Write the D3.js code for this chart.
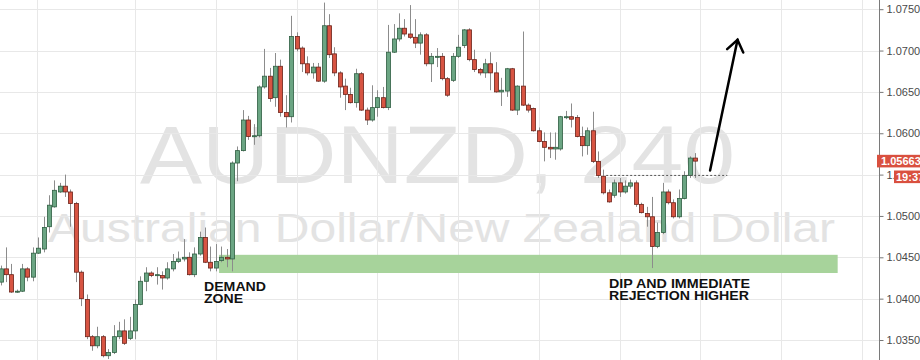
<!DOCTYPE html>
<html>
<head>
<meta charset="utf-8">
<script src="https://cdn.jsdelivr.net/npm/d3@7"></script>
<style>
  html, body { margin: 0; padding: 0; background: #fff; }
  svg { display: block; font-family: "Liberation Sans", Arial, sans-serif; }
</style>
</head>
<body>
<div id="chart"></div>
<script>
// AUDNZD 4h candles (index 0 = leftmost candle)
const opens = [
  1.0420, 1.0436, 1.0429, 1.0408, 1.0409, 1.0436, 1.0426, 1.0455, 1.0460, 1.0487,
  1.0511, 1.0529, 1.0536, 1.0529, 1.0515, 1.0432, 1.0399, 1.0354, 1.0343, 1.0354,
  1.0331, 1.0335, 1.0354, 1.0361, 1.0352, 1.0361, 1.0393, 1.0421, 1.0431, 1.0428,
  1.0428, 1.0425, 1.0436, 1.0445, 1.0448, 1.0450, 1.0429, 1.0454, 1.0474, 1.0444,
  1.0437, 1.0446, 1.0450, 1.0448, 1.0564, 1.0579, 1.0616, 1.0596, 1.0597, 1.0656,
  1.0669, 1.0643, 1.0681, 1.0625, 1.0620, 1.0717, 1.0703, 1.0684, 1.0673, 1.0680,
  1.0663, 1.0730, 1.0696, 1.0673, 1.0657, 1.0647, 1.0637, 1.0672, 1.0628, 1.0616,
  1.0631, 1.0643, 1.0631, 1.0698, 1.0714, 1.0727, 1.0720, 1.0716, 1.0709, 1.0719,
  1.0684, 1.0692, 1.0693, 1.0666, 1.0664, 1.0693, 1.0706, 1.0725, 1.0689, 1.0677,
  1.0673, 1.0684, 1.0673, 1.0650, 1.0651, 1.0678, 1.0628, 1.0657, 1.0634, 1.0630,
  1.0603, 1.0590, 1.0583, 1.0581, 1.0581, 1.0619, 1.0620, 1.0619, 1.0596, 1.0585,
  1.0603, 1.0566, 1.0548, 1.0528, 1.0525, 1.0540, 1.0529, 1.0536, 1.0540, 1.0514,
  1.0503, 1.0499, 1.0463, 1.0480, 1.0529, 1.0516, 1.0499, 1.0521, 1.0549, 1.0570
];
const highs = [
  1.0440, 1.0462, 1.0442, 1.0411, 1.0442, 1.0438, 1.0462, 1.0474, 1.0499, 1.0525,
  1.0543, 1.0540, 1.0550, 1.0532, 1.0517, 1.0434, 1.0405, 1.0356, 1.0366, 1.0356,
  1.0339, 1.0368, 1.0372, 1.0375, 1.0378, 1.0399, 1.0427, 1.0438, 1.0433, 1.0438,
  1.0433, 1.0444, 1.0454, 1.0457, 1.0472, 1.0456, 1.0462, 1.0481, 1.0486, 1.0463,
  1.0466, 1.0463, 1.0460, 1.0566, 1.0584, 1.0628, 1.0621, 1.0611, 1.0658, 1.0702,
  1.0679, 1.0697, 1.0689, 1.0646, 1.0742, 1.0722, 1.0705, 1.0693, 1.0685, 1.0685,
  1.0758, 1.0744, 1.0704, 1.0675, 1.0666, 1.0655, 1.0678, 1.0674, 1.0631, 1.0658,
  1.0652, 1.0656, 1.0731, 1.0732, 1.0745, 1.0738, 1.0755, 1.0738, 1.0722, 1.0721,
  1.0697, 1.0703, 1.0697, 1.0668, 1.0697, 1.0719, 1.0726, 1.0727, 1.0701, 1.0679,
  1.0690, 1.0698, 1.0686, 1.0667, 1.0679, 1.0679, 1.0658, 1.0723, 1.0636, 1.0631,
  1.0607, 1.0601, 1.0601, 1.0601, 1.0621, 1.0627, 1.0636, 1.0622, 1.0608, 1.0607,
  1.0626, 1.0578, 1.0556, 1.0532, 1.0544, 1.0546, 1.0543, 1.0544, 1.0543, 1.0516,
  1.0511, 1.0523, 1.0492, 1.0540, 1.0532, 1.0520, 1.0532, 1.0554, 1.0572, 1.0576
];
const lows = [
  1.0416, 1.0420, 1.0407, 1.0407, 1.0408, 1.0421, 1.0421, 1.0454, 1.0456, 1.0480,
  1.0510, 1.0528, 1.0523, 1.0487, 1.0420, 1.0391, 1.0351, 1.0337, 1.0340, 1.0329,
  1.0327, 1.0333, 1.0351, 1.0344, 1.0350, 1.0351, 1.0392, 1.0409, 1.0426, 1.0417,
  1.0411, 1.0423, 1.0433, 1.0443, 1.0445, 1.0428, 1.0426, 1.0452, 1.0443, 1.0433,
  1.0433, 1.0444, 1.0438, 1.0433, 1.0542, 1.0578, 1.0592, 1.0586, 1.0595, 1.0654,
  1.0638, 1.0632, 1.0620, 1.0607, 1.0613, 1.0699, 1.0674, 1.0670, 1.0666, 1.0662,
  1.0661, 1.0691, 1.0669, 1.0643, 1.0628, 1.0636, 1.0631, 1.0627, 1.0610, 1.0614,
  1.0620, 1.0630, 1.0628, 1.0697, 1.0711, 1.0717, 1.0714, 1.0703, 1.0695, 1.0681,
  1.0662, 1.0680, 1.0664, 1.0644, 1.0662, 1.0691, 1.0703, 1.0687, 1.0674, 1.0670,
  1.0667, 1.0652, 1.0649, 1.0633, 1.0644, 1.0627, 1.0622, 1.0633, 1.0625, 1.0602,
  1.0589, 1.0566, 1.0570, 1.0568, 1.0579, 1.0617, 1.0607, 1.0595, 1.0572, 1.0574,
  1.0564, 1.0546, 1.0526, 1.0516, 1.0522, 1.0523, 1.0527, 1.0533, 1.0511, 1.0503,
  1.0487, 1.0437, 1.0461, 1.0478, 1.0514, 1.0497, 1.0497, 1.0520, 1.0546, 1.0546
];
const closes = [
  1.0436, 1.0429, 1.0408, 1.0409, 1.0436, 1.0426, 1.0455, 1.0461, 1.0486, 1.0513,
  1.0531, 1.0536, 1.0529, 1.0515, 1.0432, 1.0400, 1.0354, 1.0343, 1.0354, 1.0331,
  1.0335, 1.0354, 1.0361, 1.0346, 1.0361, 1.0393, 1.0421, 1.0431, 1.0428, 1.0429,
  1.0425, 1.0436, 1.0445, 1.0448, 1.0450, 1.0429, 1.0454, 1.0474, 1.0444, 1.0437,
  1.0445, 1.0450, 1.0448, 1.0564, 1.0579, 1.0616, 1.0596, 1.0597, 1.0656, 1.0669,
  1.0642, 1.0681, 1.0625, 1.0620, 1.0717, 1.0702, 1.0684, 1.0673, 1.0680, 1.0663,
  1.0730, 1.0695, 1.0673, 1.0656, 1.0647, 1.0637, 1.0672, 1.0628, 1.0616, 1.0631,
  1.0643, 1.0631, 1.0698, 1.0714, 1.0727, 1.0720, 1.0716, 1.0709, 1.0719, 1.0684,
  1.0693, 1.0693, 1.0666, 1.0646, 1.0693, 1.0704, 1.0725, 1.0689, 1.0677, 1.0673,
  1.0684, 1.0673, 1.0650, 1.0652, 1.0678, 1.0628, 1.0657, 1.0634, 1.0628, 1.0603,
  1.0590, 1.0583, 1.0581, 1.0583, 1.0620, 1.0620, 1.0617, 1.0596, 1.0585, 1.0603,
  1.0566, 1.0549, 1.0528, 1.0517, 1.0540, 1.0529, 1.0536, 1.0540, 1.0514, 1.0504,
  1.0499, 1.0463, 1.0480, 1.0529, 1.0516, 1.0499, 1.0521, 1.0549, 1.0570, 1.05663
];

const priceTicks = [1.035, 1.04, 1.045, 1.05, 1.055, 1.06, 1.065, 1.07, 1.075];
const timeGrid = [6.8, 25, 40, 55, 70, 85, 100, 115, 130, 145, 160]; // candle index of day separators

// demand zone (price band, candle index range)
const zoneLow = 1.0431, zoneHigh = 1.0453;
const zoneStart = 40.6, zoneEnd = 155.5;

// breakout level (dashed) and projection arrow
const breakLevel = 1.0549, breakFrom = 112.5, breakTo = 135;
const arrowFrom = [131.8, 1.0555], arrowTo = [136.9, 1.0713];

const lastPrice = "1.05663", countdown = "19:37";
const symbolText = "AUDNZD, 240";
const descText = "Australian Dollar/New Zealand Dollar";

const width = 920, height = 360;
const axisX = 879;

const candles = opens.map((o, i) => ({ i, o, h: highs[i], l: lows[i], c: closes[i] }));

const x = d3.scaleLinear().domain([0, 129]).range([0.5, 695]);
const y = d3.scaleLinear().domain([1.035, 1.075]).range([340, 9.2]);

const svg = d3.select("#chart").append("svg")
  .attr("width", width)
  .attr("height", height);

svg.append("rect").attr("width", width).attr("height", height).attr("fill", "#fff");

// watermark (image is stretched sideways, so force text widths)
svg.append("text")
  .attr("x", 140).attr("y", 183)
  .attr("font-size", 81)
  .attr("fill", "#e3e3e3")
  .attr("textLength", 595)
  .attr("lengthAdjust", "spacingAndGlyphs")
  .text(symbolText);

svg.append("text")
  .attr("x", 48).attr("y", 242)
  .attr("font-size", 40)
  .attr("fill", "#e3e3e3")
  .attr("textLength", 787)
  .attr("lengthAdjust", "spacingAndGlyphs")
  .text(descText);

// grid
const grid = svg.append("g").attr("stroke", "#e8e8e8").attr("stroke-width", 1);
grid.selectAll(".h").data(priceTicks).join("line")
  .attr("x1", 0).attr("x2", axisX)
  .attr("y1", d => Math.round(y(d)) + 0.5).attr("y2", d => Math.round(y(d)) + 0.5);
grid.selectAll(".v").data(timeGrid).join("line")
  .attr("x1", d => Math.round(x(d)) + 0.5).attr("x2", d => Math.round(x(d)) + 0.5)
  .attr("y1", 0).attr("y2", height);

// demand zone
svg.append("rect")
  .attr("x", x(zoneStart))
  .attr("y", y(zoneHigh))
  .attr("width", x(zoneEnd) - x(zoneStart))
  .attr("height", y(zoneLow) - y(zoneHigh))
  .attr("fill", "#a7d39b");

// candles
const up = d => d.c >= d.o;
const cg = svg.append("g");
cg.selectAll("line").data(candles).join("line")
  .attr("x1", d => Math.round(x(d.i)) + 0.5).attr("x2", d => Math.round(x(d.i)) + 0.5)
  .attr("y1", d => y(d.h)).attr("y2", d => y(d.l))
  .attr("stroke", "#8c8c8c").attr("stroke-width", 1);
cg.selectAll("rect").data(candles).join("rect")
  .attr("x", d => Math.round(x(d.i)) - 1.5)
  .attr("y", d => y(Math.max(d.o, d.c)))
  .attr("width", 4)
  .attr("height", d => Math.max(1, Math.abs(y(d.o) - y(d.c))))
  .attr("fill", d => up(d) ? "#6ba583" : "#d75442")
  .attr("stroke", d => up(d) ? "#2f5e41" : "#6b2219")
  .attr("stroke-width", 0.8);

// breakout level
svg.append("line")
  .attr("x1", x(breakFrom)).attr("x2", x(breakTo))
  .attr("y1", y(breakLevel)).attr("y2", y(breakLevel))
  .attr("stroke", "#555").attr("stroke-width", 1)
  .attr("stroke-dasharray", "2,2");

// arrow
const ax1 = x(arrowFrom[0]), ay1 = y(arrowFrom[1]);
const ax2 = x(arrowTo[0]), ay2 = y(arrowTo[1]);
const ang = Math.atan2(ay1 - ay2, ax1 - ax2);
const head = 14, spread = 36 * Math.PI / 180;
svg.append("line")
  .attr("x1", ax1).attr("y1", ay1).attr("x2", ax2).attr("y2", ay2)
  .attr("stroke", "#000").attr("stroke-width", 2.5).attr("stroke-linecap", "round");
svg.append("path")
  .attr("d", `M${ax2 + head * Math.cos(ang + spread)},${ay2 + head * Math.sin(ang + spread)}` +
             `L${ax2},${ay2}` +
             `L${ax2 + head * Math.cos(ang - spread)},${ay2 + head * Math.sin(ang - spread)}`)
  .attr("fill", "none").attr("stroke", "#000").attr("stroke-width", 2.5)
  .attr("stroke-linecap", "round").attr("stroke-linejoin", "miter");

// annotations
const note = (lines, x0, y0, widths) => {
  lines.forEach((t, k) => {
    svg.append("text")
      .attr("x", x0).attr("y", y0 + k * 12.3)
      .attr("font-size", 12.5).attr("font-weight", "bold").attr("fill", "#111")
      .attr("textLength", widths[k]).attr("lengthAdjust", "spacingAndGlyphs")
      .text(t);
  });
};
note(["DEMAND", "ZONE"], 204, 290.5, [62, 39]);
note(["DIP AND IMMEDIATE", "REJECTION HIGHER"], 609, 287.5, [141, 140]);

// price axis
const axisG = svg.append("g")
  .attr("transform", `translate(${axisX + 0.5},0)`)
  .call(d3.axisRight(y).tickValues(priceTicks).tickSize(4).tickPadding(3)
    .tickFormat(d3.format(".5f")));
axisG.select(".domain").remove();
axisG.selectAll(".tick line").attr("stroke", "#777");
axisG.selectAll(".tick text")
  .attr("font-size", 11).attr("fill", "#4a4a4a")
  .attr("font-family", "Liberation Sans, Arial, sans-serif");
svg.append("line")
  .attr("x1", axisX + 0.5).attr("x2", axisX + 0.5)
  .attr("y1", 0).attr("y2", height)
  .attr("stroke", "#7a7a7a");

// last price + countdown labels
const ly = y(+lastPrice);
svg.append("rect")
  .attr("x", axisX - 2).attr("y", ly - 6.3)
  .attr("width", width - axisX + 2).attr("height", 12.6)
  .attr("fill", "#d9503f");
svg.append("text")
  .attr("x", axisX + 2).attr("y", ly + 4)
  .attr("font-size", 11).attr("font-weight", "bold").attr("fill", "#fff")
  .text(lastPrice);
svg.append("rect")
  .attr("x", 894).attr("y", ly + 9.4)
  .attr("width", width - 894).attr("height", 12.6)
  .attr("fill", "#d9503f");
svg.append("text")
  .attr("x", 896).attr("y", ly + 19.7)
  .attr("font-size", 11).attr("font-weight", "bold").attr("fill", "#fff")
  .text(countdown);
</script>
</body>
</html>
